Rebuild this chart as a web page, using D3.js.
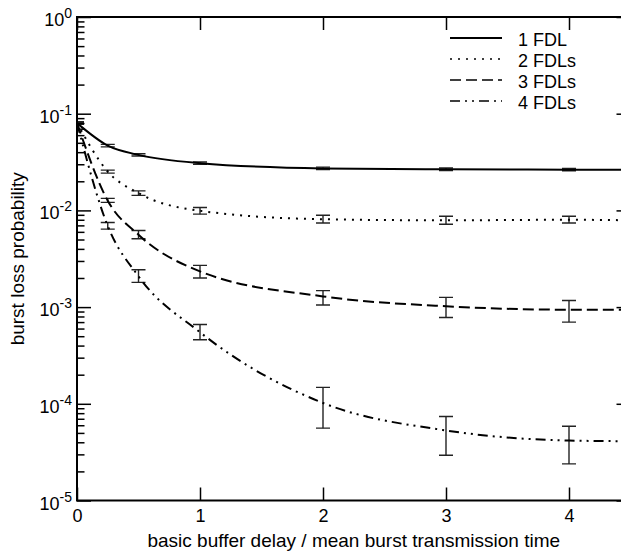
<!DOCTYPE html>
<html>
<head>
<meta charset="utf-8">
<script src="https://cdn.jsdelivr.net/npm/d3@7"></script>
<style>
  html, body { margin: 0; padding: 0; background: #fff; }
  svg { display: block; font-family: "Liberation Sans", Arial, Helvetica, sans-serif; }
</style>
</head>
<body>
<svg id="chart" width="621" height="554"></svg>
<script>
// ---------- data ----------
const seriesNames = ["1 FDL", "2 FDLs", "3 FDLs", "4 FDLs"];
const lineX = [0, 0.25, 0.5, 1, 2, 3, 4, 4.5];
const line1 = [0.080, 0.0468, 0.0375, 0.0308, 0.0272, 0.0266, 0.0264, 0.0263];
const line2 = [0.080, 0.0252, 0.0151, 0.0099, 0.0081, 0.0079, 0.0080, 0.0079];
const line3 = [0.080, 0.0126, 0.0056, 0.00234, 0.00129, 0.00102, 0.00094, 0.00094];
const line4 = [0.080, 0.0069, 0.00208, 0.00055, 0.000102, 0.000053, 0.0000417, 0.000041];

const barX = [0, 0.25, 0.5, 1, 2, 3, 4];
const low1 = [0.078, 0.0454, 0.0365, 0.0300, 0.0265, 0.0259, 0.0257];
const high1 = [0.082, 0.0482, 0.0386, 0.0317, 0.0280, 0.0274, 0.0272];
const low2 = [0.078, 0.0243, 0.0143, 0.00915, 0.0074, 0.0072, 0.0074];
const high2 = [0.082, 0.0261, 0.0159, 0.0107, 0.0089, 0.0087, 0.0087];
const low3 = [0.078, 0.0121, 0.0051, 0.00200, 0.00105, 0.00078, 0.00070];
const high3 = [0.082, 0.0133, 0.0062, 0.00270, 0.00148, 0.00126, 0.00117];
const low4 = [0.078, 0.0064, 0.00180, 0.00046, 0.000056, 0.0000294, 0.0000239];
const high4 = [0.082, 0.0075, 0.00243, 0.00066, 0.000148, 0.000074, 0.0000586];

const xTickValues = [0, 1, 2, 3, 4];
const yExponents = [0, -1, -2, -3, -4, -5];
const xTitle = "basic buffer delay / mean burst transmission time";
const yTitle = "burst loss probability";

// ---------- styles (not data) ----------
const dashes = [null, "2,6", "11,5", "10,5,2,5,2,5"];

const svg = d3.select("#chart");
const W = 621, H = 554;
svg.append("rect").attr("width", W).attr("height", H).attr("fill", "#fff");

const x = d3.scaleLinear().domain([0, 4.5]).range([77, 630.5]);
const y = d3.scaleLog().domain([1e-5, 1]).range([500.5, 17]);

const lines = [line1, line2, line3, line4];
const lows = [low1, low2, low3, low4];
const highs = [high1, high2, high3, high4];

svg.append("clipPath").attr("id", "clip").append("rect")
  .attr("x", x(0)).attr("y", y(1)).attr("width", x(4.5) - x(0)).attr("height", y(1e-5) - y(1));

const plot = svg.append("g").attr("clip-path", "url(#clip)");

// error bars
const capW = 7;
lows.forEach((lo, s) => {
  const g = plot.append("g").attr("stroke", "#222").attr("stroke-width", 1.4).attr("fill", "none");
  barX.forEach((bx, i) => {
    const cx = x(bx), y1 = y(lo[i]), y2 = y(highs[s][i]);
    g.append("line").attr("x1", cx).attr("x2", cx).attr("y1", y1).attr("y2", y2);
    g.append("line").attr("x1", cx - capW).attr("x2", cx + capW).attr("y1", y1).attr("y2", y1);
    g.append("line").attr("x1", cx - capW).attr("x2", cx + capW).attr("y1", y2).attr("y2", y2);
  });
});

// curves
const lineGen = d3.line().x(d => x(d[0])).y(d => y(d[1])).curve(d3.curveMonotoneX);
lines.forEach((vals, s) => {
  const pts = lineX.map((lx, i) => [lx, vals[i]]);
  plot.append("path").attr("d", lineGen(pts))
    .attr("fill", "none").attr("stroke", "#000").attr("stroke-width", 2)
    .attr("stroke-dasharray", dashes[s]);
});

// axes
const decades = yExponents.map(e => Math.pow(10, e));
const minors = [];
for (let e = -5; e < 0; e++) for (let m = 2; m <= 9; m++) minors.push(m * Math.pow(10, e));

function styleAxis(g) {
  g.select(".domain").remove();
  g.selectAll(".tick line").attr("stroke", "#000").attr("stroke-width", 1.5);
}

svg.append("g").attr("transform", `translate(${x(0)},0)`)
  .call(d3.axisLeft(y).tickValues(decades).tickSize(-14).tickFormat(""))
  .call(styleAxis);
svg.append("g").attr("transform", `translate(${x(0)},0)`)
  .call(d3.axisLeft(y).tickValues(minors).tickSize(-7.5).tickFormat(""))
  .call(styleAxis);
svg.append("g").attr("transform", `translate(${x(4.5)},0)`)
  .call(d3.axisRight(y).tickValues(decades).tickSize(-14).tickFormat(""))
  .call(styleAxis);
svg.append("g").attr("transform", `translate(${x(4.5)},0)`)
  .call(d3.axisRight(y).tickValues(minors).tickSize(-7.5).tickFormat(""))
  .call(styleAxis);

const xAxisG = svg.append("g").attr("transform", `translate(0,${y(1e-5)})`)
  .call(d3.axisBottom(x).tickValues(xTickValues).tickSize(-13).tickPadding(8.5).tickFormat(d3.format("d")))
  .call(styleAxis);
xAxisG.selectAll(".tick text").attr("font-size", 18).attr("fill", "#000")
  .attr("font-family", "Liberation Sans, Arial, sans-serif");
svg.append("g").attr("transform", `translate(0,${y(1)})`)
  .call(d3.axisTop(x).tickValues(xTickValues).tickSize(-13).tickFormat(""))
  .call(styleAxis);

// frame
svg.append("rect").attr("x", x(0)).attr("y", y(1))
  .attr("width", x(4.5) - x(0)).attr("height", y(1e-5) - y(1))
  .attr("fill", "none").attr("stroke", "#000").attr("stroke-width", 2);

// y tick labels with superscript
yExponents.forEach(e => {
  const t = svg.append("text").attr("x", 72).attr("y", y(Math.pow(10, e)) + 9)
    .attr("text-anchor", "end").attr("font-size", 18).attr("fill", "#000");
  t.append("tspan").text("10");
  t.append("tspan").attr("font-size", 14).attr("dy", -8).text(String(e));
});

// titles
svg.append("text").attr("x", (x(0) + x(4.5)) / 2).attr("y", 547)
  .attr("text-anchor", "middle").attr("font-size", 19).attr("fill", "#000").text(xTitle);
svg.append("text").attr("transform", `translate(24,${(y(1) + y(1e-5)) / 2}) rotate(-90)`)
  .attr("text-anchor", "middle").attr("font-size", 19).attr("fill", "#000").text(yTitle);

// legend
const legend = svg.append("g");
seriesNames.forEach((name, i) => {
  const ly = 38 + i * 21;
  legend.append("line").attr("x1", 450).attr("x2", 502).attr("y1", ly).attr("y2", ly)
    .attr("stroke", "#000").attr("stroke-width", i === 0 ? 2 : 1.6)
    .attr("stroke-dasharray", dashes[i]);
  legend.append("text").attr("x", 518).attr("y", ly + 7.5)
    .attr("font-size", 18).attr("fill", "#000").text(name);
});
</script>
</body>
</html>
